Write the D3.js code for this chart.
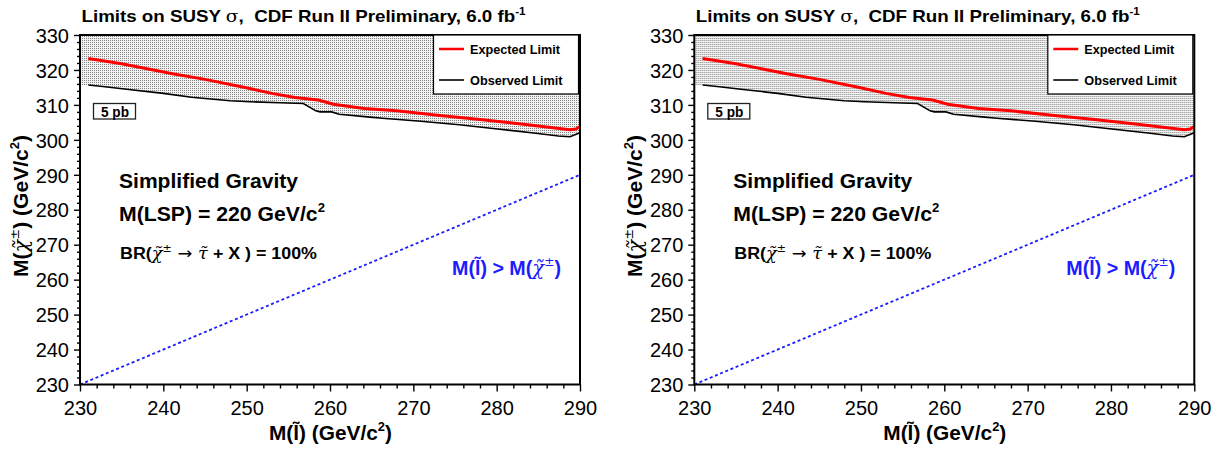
<!DOCTYPE html>
<html><head><meta charset="utf-8">
<script src="https://cdn.jsdelivr.net/npm/d3@7"></script>
<style>
body{margin:0;background:#fff}
svg{display:block}
text{font-family:"Liberation Sans",Arial,Helvetica,sans-serif;white-space:pre}
</style>
</head><body>
<svg id="c" width="1220" height="449"></svg>
<script>
// ---- data ----
const expectedMass  = [231.0, 235.0, 241.1, 245.0, 249.8, 253.0, 255.8, 258.6, 260.4, 264.1, 268.0, 273.2, 278.0, 282.4, 286.0, 288.8, 289.5, 290.0];
const expectedLimit = [323.3, 321.8, 318.9, 317.3, 315.0, 313.3, 312.1, 311.4, 310.2, 309.0, 308.3, 307.0, 305.8, 304.7, 303.7, 302.9, 303.1, 303.8];
const observedMass  = [231.0, 233.0, 235.6, 240.0, 243.4, 248.0, 250.4, 254.0, 256.8, 258.3, 258.8, 260.2, 261.1, 264.8, 266.3, 270.9, 275.5, 280.1, 284.7, 287.4, 288.8, 290.0];
const observedLimit = [315.7, 315.2, 314.5, 313.3, 312.2, 311.2, 310.9, 310.6, 310.4, 308.3, 308.0, 308.0, 307.3, 306.5, 306.2, 305.3, 304.3, 303.1, 301.9, 301.1, 300.9, 302.0];
const diagonalMass  = [230, 290];
const xTickValues = [230, 240, 250, 260, 270, 280, 290];
const yTickValues = [230, 240, 250, 260, 270, 280, 290, 300, 310, 320, 330];
const xMinorStep = 2, yMinorStep = 2;
const legendLabels = ["Expected Limit", "Observed Limit"];
const xDomain = [230, 290], yDomain = [230, 330];
const boxLabel = "5 pb";

// ---- drawing ----
const svg = d3.select("#c");
const defs = svg.append("defs");
const pat = defs.append("pattern").attr("id","dots").attr("width",2).attr("height",2).attr("patternUnits","userSpaceOnUse");
pat.append("rect").attr("width",2).attr("height",2).attr("fill","#f2f2f2");
pat.append("rect").attr("width",1).attr("height",1).attr("fill","#858585");

const SYM = "'DejaVu Serif','Liberation Serif',serif";

function rich(t, parts, size) {
  let shift = 0;
  parts.forEach(p => {
    const ts = t.append("tspan").text(p.t);
    const target = p.sup ? -size * 0.45 : 0;
    if (target - shift !== 0) ts.attr("dy", target - shift);
    shift = target;
    if (p.sup) ts.attr("font-size", size * 0.62);
    if (p.sym) ts.attr("font-family", SYM).attr("font-style", p.up ? "normal" : "italic").attr("font-weight", "normal");
    if (p.plain) ts.attr("font-family", "'DejaVu Sans',sans-serif").attr("font-weight","normal");
  });
  return t;
}

function panel(offset) {
  const g = svg.append("g").attr("transform", `translate(${offset},0)`);
  const x = d3.scaleLinear().domain(xDomain).range([80, 580]);
  const y = d3.scaleLinear().domain(yDomain).range([384.5, 35]);

  // excluded region (dotted fill above observed limit)
  const obs = observedMass.map((m, i) => [m, observedLimit[i]]);
  const fillPts = [[xDomain[0], observedLimit[0]], ...obs];
  g.append("path").datum(fillPts)
    .attr("d", d3.area().x(d => x(d[0])).y0(y(yDomain[1])).y1(d => y(d[1])))
    .attr("fill", "url(#dots)");

  // diagonal
  g.append("path").datum(diagonalMass)
    .attr("d", d3.line().x(d => x(d)).y(d => y(d)))
    .attr("stroke", "#1c1cff").attr("stroke-width", 1.8).attr("stroke-dasharray", "3,2.6").attr("fill", "none");

  // observed
  g.append("path").datum(obs)
    .attr("d", d3.line().x(d => x(d[0])).y(d => y(d[1])))
    .attr("stroke", "#000").attr("stroke-width", 1.6).attr("fill", "none");
  // expected
  const exp = expectedMass.map((m, i) => [m, expectedLimit[i]]);
  g.append("path").datum(exp)
    .attr("d", d3.line().x(d => x(d[0])).y(d => y(d[1])))
    .attr("stroke", "#ff0000").attr("stroke-width", 3).attr("fill", "none");

  // axes
  const xMinor = d3.range(xDomain[0], xDomain[1] + 0.01, xMinorStep).filter(v => !xTickValues.includes(v));
  const yMinor = d3.range(yDomain[0], yDomain[1] + 0.01, yMinorStep).filter(v => !yTickValues.includes(v));
  const xa = g.append("g").attr("transform", "translate(0,384.5)")
    .call(d3.axisBottom(x).tickValues(xTickValues).tickSize(7).tickPadding(9).tickFormat(d3.format("d")));
  const xm = g.append("g").attr("transform", "translate(0,384.5)")
    .call(d3.axisBottom(x).tickValues(xMinor).tickSize(4).tickFormat(""));
  const ya = g.append("g").attr("transform", "translate(80,0)")
    .call(d3.axisLeft(y).tickValues(yTickValues).tickSize(6).tickPadding(5).tickFormat(d3.format("d")));
  const ym = g.append("g").attr("transform", "translate(80,0)")
    .call(d3.axisLeft(y).tickValues(yMinor).tickSize(3).tickFormat(""));
  [xa, xm, ya, ym].forEach(a => {
    a.select(".domain").remove();
    a.selectAll("line").attr("stroke", "#000").attr("stroke-width", 1.4);
    a.selectAll("text").attr("font-size", 20).attr("fill", "#000")
      .attr("font-family", "'Liberation Sans',Arial,sans-serif");
  });
  ya.selectAll("text").attr("dy", "0.36em");

  // frame
  g.append("rect").attr("x", 80).attr("y", 35).attr("width", 500).attr("height", 349.5)
    .attr("fill", "none").attr("stroke", "#000").attr("stroke-width", 2);

  // legend
  const lg = g.append("g");
  lg.append("rect").attr("x", 433.5).attr("y", 35).attr("width", 145).attr("height", 59)
    .attr("fill", "#fff").attr("stroke", "#000").attr("stroke-width", 1.2);
  const legendStyles = [{c:"#ff0000", w:2.5, y:49}, {c:"#000", w:1.6, y:80}];
  legendLabels.forEach((lab, i) => {
    const s = legendStyles[i];
    lg.append("line").attr("x1", 439).attr("x2", 464).attr("y1", s.y).attr("y2", s.y)
      .attr("stroke", s.c).attr("stroke-width", s.w);
    lg.append("text").attr("x", 470).attr("y", s.y + 4.5).attr("font-size", 13).attr("font-weight", "bold")
      .attr("textLength", i === 0 ? 90 : 92.5).attr("lengthAdjust", "spacingAndGlyphs")
      .text(lab);
  });

  // 5 pb box
  g.append("rect").attr("x", 93.5).attr("y", 103.5).attr("width", 42).attr("height", 15.5)
    .attr("fill", "#fff").attr("stroke", "#222").attr("stroke-width", 1.3);
  g.append("text").attr("x", 101).attr("y", 116.8)
    .attr("font-size", 14).attr("font-weight", "bold")
    .attr("textLength", 28).attr("lengthAdjust", "spacingAndGlyphs").text(boxLabel);

  // title
  rich(g.append("text").attr("x", 81.5).attr("y", 22).attr("font-size", 16.5).attr("font-weight", "bold")
    .attr("textLength", 444).attr("lengthAdjust", "spacingAndGlyphs"),
    [{t:"Limits on SUSY "}, {t:"σ", sym:true, up:true}, {t:",  CDF Run II Preliminary, 6.0 fb"}, {t:"-1", sup:true}], 16.5);

  // annotations
  g.append("text").attr("x", 119).attr("y", 188).attr("font-size", 20).attr("font-weight", "bold")
    .attr("textLength", 179).attr("lengthAdjust", "spacingAndGlyphs").text("Simplified Gravity");
  rich(g.append("text").attr("x", 119).attr("y", 221).attr("font-size", 20).attr("font-weight", "bold")
    .attr("textLength", 206).attr("lengthAdjust", "spacingAndGlyphs"),
    [{t:"M(LSP) = 220 GeV/c"}, {t:"2", sup:true}], 20);
  rich(g.append("text").attr("x", 120).attr("y", 259).attr("font-size", 16).attr("font-weight", "bold")
    .attr("textLength", 197).attr("lengthAdjust", "spacingAndGlyphs"),
    [{t:"BR("}, {t:"χ\u0303", sym:true}, {t:"±", sup:true, plain:true}, {t:" → ", plain:true}, {t:"τ\u0303", sym:true}, {t:" + X ) = 100%"}], 16);

  rich(g.append("text").attr("x", 452).attr("y", 275).attr("font-size", 19.5).attr("font-weight", "bold")
    .attr("fill", "#1c1cff").attr("textLength", 109).attr("lengthAdjust", "spacingAndGlyphs"),
    [{t:"M(l\u0303) > M("}, {t:"χ\u0303", sym:true}, {t:"±", sup:true, plain:true}, {t:")"}], 19.5);

  // axis titles
  rich(g.append("text").attr("x", 330.5).attr("y", 440).attr("text-anchor", "middle")
    .attr("font-size", 20).attr("font-weight", "bold")
    .attr("textLength", 123).attr("lengthAdjust", "spacingAndGlyphs"),
    [{t:"M(l\u0303) (GeV/c"}, {t:"2", sup:true}, {t:")"}], 20);
  rich(g.append("text").attr("transform", "translate(28,206) rotate(-90)").attr("text-anchor", "middle")
    .attr("font-size", 20).attr("font-weight", "bold")
    .attr("textLength", 142).attr("lengthAdjust", "spacingAndGlyphs"),
    [{t:"M("}, {t:"χ\u0303", sym:true}, {t:"±", sup:true, plain:true}, {t:") (GeV/c"}, {t:"2", sup:true}, {t:")"}], 20);
}

panel(0);
panel(614.3);
</script>
</body></html>
